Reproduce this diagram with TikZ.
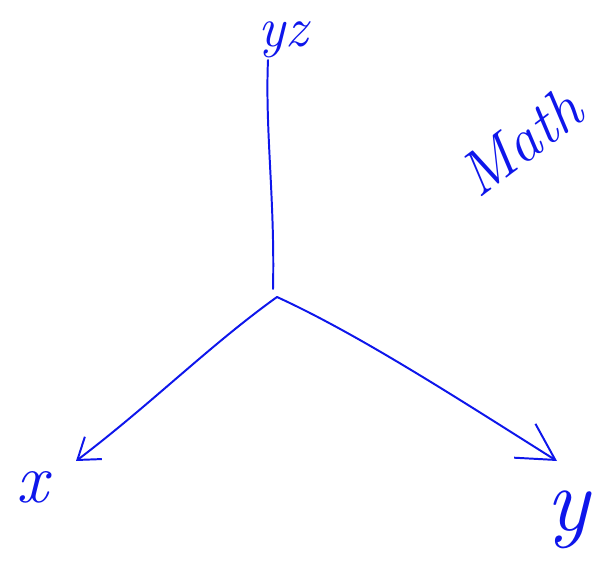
\documentclass[tikz,border=0pt]{standalone}
\usepackage{tikz}
\usetikzlibrary{arrows.meta}
\definecolor{pen}{RGB}{14,22,235}
\tikzset{
  stroke/.style={draw=pen, line width=1.4pt, line cap=round, line join=round},
  scrawl/.style={text=pen, inner sep=0pt, font=\itshape\fontsize{#1}{#1}\selectfont},
}
\begin{document}
\begin{tikzpicture}[x=0.025cm, y=-0.025cm]
  \useasboundingbox (0,0) rectangle (593,561);
  % labels
  \node[scrawl=40] (zlabel) at (283,40) {yz};
  \node[scrawl=50] (xlabel) at (32,487) {x};
  \node[scrawl=64] (ylabel) at (568,520) {y};
  \node[scrawl=44, rotate=37] (title) at (520,142) {Math};
  % origin and axis ends
  \coordinate (o) at (277,297);
  \coordinate (zbase) at (273,289);
  \coordinate (ztop) at (268,60);
  \coordinate (xend) at (76,461);
  \coordinate (yend) at (557,461);
  % axes
  \draw[stroke] (zbase) .. controls (275,200) and (265,130) .. (ztop);
  \draw[stroke, -{Straight Barb[length=0.5cm, width=0.7cm]}]
    (o) .. controls (210,345) and (150,405) .. (xend);
  \draw[stroke, -{Straight Barb[length=0.9cm, width=1cm]}]
    (o) .. controls (360,335) and (460,400) .. (yend);
\end{tikzpicture}
\end{document}
